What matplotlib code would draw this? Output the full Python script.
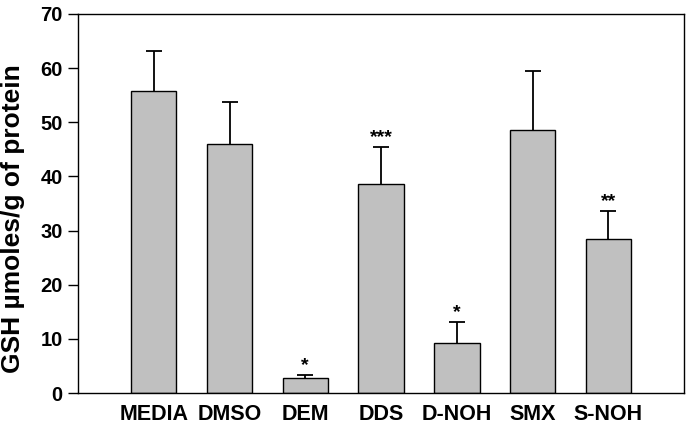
import matplotlib.pyplot as plt

plt.rcParams["font.family"] = ["Liberation Sans", "DejaVu Sans"]
plt.rcParams["font.weight"] = "bold"

groups = ["MEDIA", "DMSO", "DEM", "DDS", "D-NOH", "SMX", "S-NOH"]
gsh = [55.7, 45.9, 2.7, 38.6, 9.3, 48.5, 28.5]
sem = [7.5, 7.9, 0.55, 6.8, 3.8, 11.0, 5.1]
marks = ["", "", "*", "***", "*", "", "**"]

fig = plt.figure(figsize=(6.96, 4.29), dpi=100)
ax = fig.add_axes([0.1121, 0.0839, 0.8707, 0.8835])

x = list(range(1, len(groups) + 1))
ax.bar(x, gsh, width=0.6, color="#c0c0c0", edgecolor="black", linewidth=1.0, zorder=2)
eb = ax.errorbar(x, gsh, yerr=[[0] * len(sem), sem], fmt="none", ecolor="black",
                 elinewidth=1.3, capsize=6, capthick=1.3, zorder=1)
# only the upper cap is wanted
eb[1][0].set_visible(False)

for xi, v, e, m in zip(x, gsh, sem, marks):
    if m:
        ax.text(xi, v + e + 0.2, m, ha="center", va="bottom", fontsize=14, fontweight="bold")

ax.set_xlim(0, 8)
ax.set_ylim(0, 70)
ax.set_yticks(range(0, 71, 10))
ax.set_xticks(x)
ax.set_xticklabels(groups, fontsize=15.5, fontweight="bold")
ax.tick_params(axis="x", length=0, pad=8)
ax.tick_params(axis="y", direction="out", length=7, width=1, labelsize=14.5, pad=4)
for lbl in ax.get_yticklabels():
    lbl.set_fontweight("bold")
for s in ax.spines.values():
    s.set_linewidth(1.0)

ax.set_ylabel("GSH µmoles/g of protein", fontsize=19, fontweight="bold")
ax.yaxis.set_label_coords(-0.087, 0.46)

fig.savefig("out.png", dpi=100)
